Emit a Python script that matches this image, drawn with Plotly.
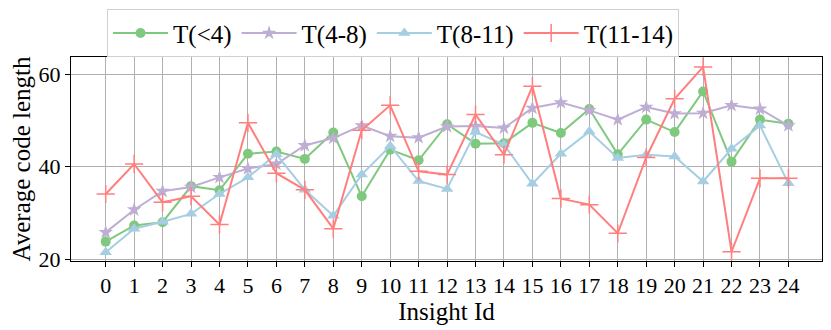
import plotly.graph_objects as go

insight_ids = list(range(25))
t_lt4 = [23.8, 27.3, 28.0, 35.8, 34.9, 42.8, 43.3, 41.7, 47.4, 33.6, 43.7, 41.4, 49.2, 45.0, 45.1, 49.5, 47.3, 52.5, 42.7, 50.2, 47.5, 56.3, 41.1, 50.2, 49.3]
t_4_8 = [25.8, 30.7, 34.7, 35.6, 37.7, 39.6, 40.6, 44.6, 46.2, 48.9, 46.6, 46.3, 48.7, 48.8, 48.4, 52.7, 53.9, 52.2, 50.2, 52.9, 51.5, 51.6, 53.3, 52.5, 48.9]
t_8_11 = [21.5, 26.6, 28.1, 29.8, 34.1, 37.7, 42.7, 35.0, 29.4, 38.3, 44.5, 36.9, 35.2, 47.5, 44.8, 36.3, 42.8, 47.6, 41.9, 42.6, 42.2, 36.8, 43.9, 48.9, 36.4]
t_11_14 = [34.1, 40.6, 32.3, 33.6, 27.5, 49.5, 38.6, 35.0, 26.6, 47.9, 53.3, 39.0, 38.3, 51.3, 42.6, 57.4, 33.1, 31.8, 25.6, 42.0, 54.7, 61.6, 21.6, 37.5, 37.5]

series = [
    ("T(<4)", t_lt4, "#7fc97f", "circle", 10),
    ("T(4-8)", t_4_8, "#beaed4", "star", 11),
    ("T(8-11)", t_8_11, "#a6cee3", "triangle-up", 11),
    ("T(11-14)", t_11_14, "#ff7f7f", "cross-thin", 13),
]

fig = go.Figure()
for name, vals, color, sym, size in series:
    marker = dict(symbol=sym, size=size, color=color)
    if sym == "cross-thin":
        marker["line"] = dict(color=color, width=1.5)
    fig.add_trace(go.Scatter(
        x=insight_ids, y=vals, name=name, mode="lines+markers",
        line=dict(color=color, width=2), marker=marker,
    ))

font = "Liberation Serif, Times New Roman, serif"
fig.update_layout(
    width=831, height=330,
    margin=dict(l=63, r=17, t=49, b=77, autoexpand=False),
    plot_bgcolor="white", paper_bgcolor="white",
    font=dict(family=font, size=22, color="black"),
    showlegend=True,
    legend=dict(
        orientation="h", x=0.048, y=1.234, xanchor="left", yanchor="top",
        bordercolor="#d0d0d0", borderwidth=1, font=dict(size=25, family=font),
        tracegroupgap=0, itemwidth=55,
    ),
    xaxis=dict(
        range=[-1.22, 25.18], tickmode="array", tickvals=insight_ids,
        ticktext=[str(i) for i in insight_ids],
        showgrid=True, gridcolor="#b0b0b0", gridwidth=1,
        showline=True, linecolor="black", linewidth=1, mirror=True,
        ticks="outside", ticklen=5, tickcolor="black",
        title=dict(text="Insight Id", font=dict(size=25), standoff=2),
        tickfont=dict(size=22), zeroline=False,
    ),
    yaxis=dict(
        range=[19.6, 63.75], tickvals=[20, 40, 60],
        showgrid=True, gridcolor="#b0b0b0", gridwidth=1,
        showline=True, linecolor="black", linewidth=1, mirror=True,
        ticks="outside", ticklen=5, tickcolor="black",
        title=dict(text="Average code length", font=dict(size=25), standoff=4),
        tickfont=dict(size=22), zeroline=False,
    ),
)
fig.write_html("out.html")
